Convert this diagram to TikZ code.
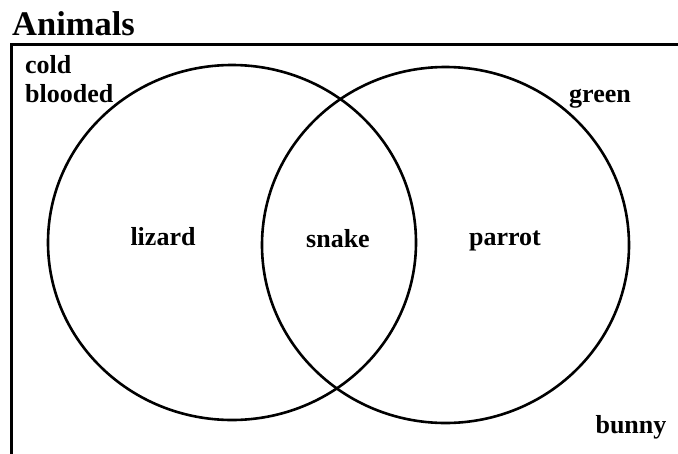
\documentclass[tikz,border=0pt]{standalone}
\usepackage{fontspec}
\setmainfont{Liberation Serif}
\usetikzlibrary{shapes.geometric}
\begin{document}
\begin{tikzpicture}[x=1pt,y=-1pt,
  lbl/.style={font=\fontsize{26}{28}\selectfont\bfseries, inner sep=0pt},
  ring/.style={draw=black, line width=2.6pt}]
\useasboundingbox (0,0) rectangle (678,453);
\node[font=\fontsize{34.5}{36}\selectfont\bfseries, inner sep=0pt, anchor=base west] (title) at (12,35) {Animals};
\coordinate (bl) at (11.5,460);
\coordinate (tl) at (11.5,44.5);
\coordinate (tr) at (690,44.5);
\draw[line width=2.6pt] (bl) -- (tl) -- (tr);
\node[ring, ellipse, minimum width=368pt, minimum height=355pt, inner sep=0pt] (A) at (232,242.5) {};
\node[ring, ellipse, minimum width=367pt, minimum height=356pt, inner sep=0pt] (B) at (445.5,245) {};
\node[lbl, anchor=base west] (cold) at (25,73) {cold};
\node[lbl, anchor=base west] (blooded) at (25,102) {blooded};
\node[lbl, anchor=base] (green) at (600,102) {green};
\node[lbl, anchor=base] (bunny) at (631,433) {bunny};
\node[lbl, anchor=base] (lizard) at (163,245) {lizard};
\node[lbl, anchor=base] (snake) at (338,247) {snake};
\node[lbl, anchor=base] (parrot) at (505,245) {parrot};
\end{tikzpicture}
\end{document}
